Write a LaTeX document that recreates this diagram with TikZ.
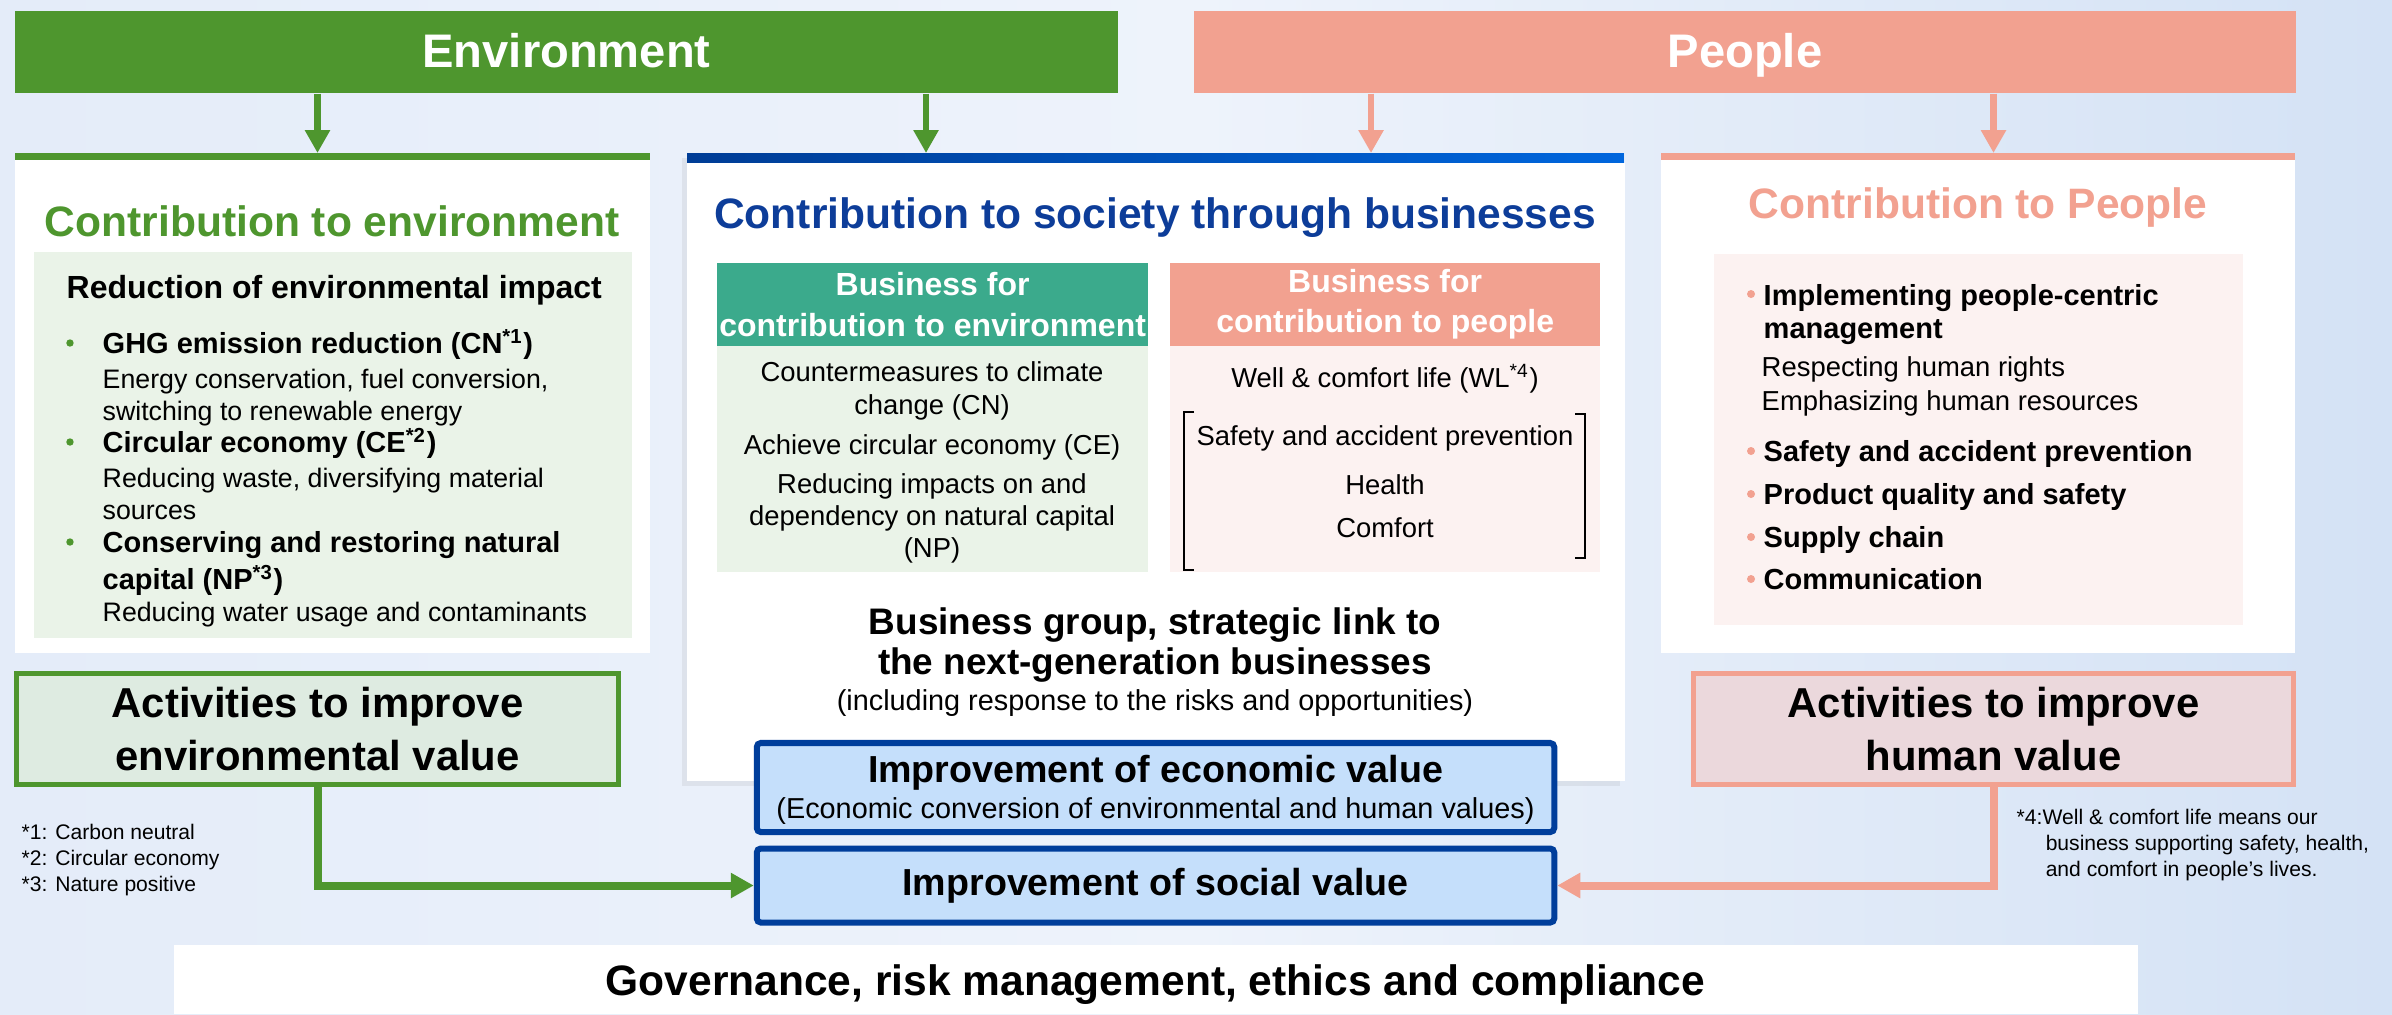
\documentclass[tikz,border=0pt]{standalone}
\usepackage{fontspec}
\setmainfont{Liberation Sans}
\usetikzlibrary{arrows.meta,shadows}
\definecolor{envgreen}{RGB}{78,150,46}
\definecolor{pplsalmon}{RGB}{242,161,144}
\definecolor{bizteal}{RGB}{59,170,140}
\definecolor{bizblue}{RGB}{13,61,153}
\definecolor{bardark}{RGB}{0,61,150}
\definecolor{barbright}{RGB}{0,102,221}
\definecolor{valblue}{RGB}{0,62,155}
\definecolor{valfill}{RGB}{197,223,251}
\definecolor{envlight}{RGB}{234,243,232}
\definecolor{ppllight}{RGB}{252,242,241}
\definecolor{actgreen}{RGB}{222,235,225}
\definecolor{actpink}{RGB}{235,216,220}
\definecolor{bgleft}{RGB}{228,236,249}
\definecolor{bgmid}{RGB}{238,243,251}
\definecolor{bgright}{RGB}{212,226,245}
\begin{document}
\begin{tikzpicture}[x=0.01cm,y=-0.01cm,
  banner/.style={inner sep=0, minimum height=0.82cm, text height=0.34cm, text depth=0.04cm, text=white, font=\bfseries\fontsize{13.4}{16}\selectfont},
  panel/.style={inner sep=0, outer sep=0, anchor=north west, fill=white},
  head/.style={panel, minimum width=4.31cm, minimum height=0.83cm, text=white, align=center, font=\bfseries\fontsize{9.1}{11.4}\selectfont},
  title/.style={inner sep=0, anchor=base, font=\bfseries\fontsize{12.1}{14.5}\selectfont},
  item/.style={inner sep=0, anchor=base west, align=left, font=\bfseries\fontsize{8.25}{9.4}\selectfont},
  body/.style={inner sep=0, align=center, font=\fontsize{7.8}{9.3}\selectfont},
  sub/.style={body, anchor=north west, align=left, font=\fontsize{7.6}{9.1}\selectfont},
  act/.style={line width=0.05cm, minimum height=1.11cm, align=center, font=\bfseries\fontsize{11.9}{14.8}\selectfont},
  value/.style={draw=valblue, fill=valfill, line width=0.06cm, rounded corners=0.04cm, minimum width=7.97cm},
  note/.style={inner sep=0, anchor=north west, align=left, font=\fontsize{6}{7.4}\selectfont},
  down/.style={line width=0.065cm, -{Triangle[length=0.23cm,width=0.24cm]}},
  link/.style={line width=0.08cm, -{Triangle[length=0.23cm,width=0.24cm]}}
]
\useasboundingbox (0,0) rectangle (2392,1014);
\shade[left color=bgleft, right color=bgright, middle color=bgmid] (0,0) rectangle (2392,1014);

% banners
\node[banner, fill=envgreen, minimum width=11.03cm] (env) at (566.5,52) {Environment};
\node[banner, fill=pplsalmon, minimum width=11.02cm] (ppl) at (1745,52) {People};

% three panels
\node[panel, minimum width=6.35cm, minimum height=5.00cm] (envpanel) at (15,153) {};
\fill[envgreen] (envpanel.north west) rectangle ++(635,7);
\node[panel, minimum width=9.37cm, minimum height=6.28cm, drop shadow={shadow xshift=-0.05cm, shadow yshift=-0.05cm, opacity=0.12}] (bizpanel) at (687,153) {};
\shade[left color=bardark, right color=barbright] (bizpanel.north west) rectangle ++(937,9);
\node[panel, minimum width=6.34cm, minimum height=5.00cm] (pplpanel) at (1661,153) {};
\fill[pplsalmon] (pplpanel.north west) rectangle ++(634,7);

\node[title, text=envgreen] (envtitle) at (332,236) {Contribution to environment};
\node[title, text=bizblue] (biztitle) at (1155,228) {Contribution to society through businesses};
\node[title, text=pplsalmon] (ppltitle) at (1978,218) {Contribution to People};

% environment list
\node[panel, fill=envlight, minimum width=5.98cm, minimum height=3.86cm] (envlist) at (34,252) {};
\node[item, font=\bfseries\fontsize{9.1}{11}\selectfont] (reduce) at (66,298) {Reduction of environmental impact};
\node[item] (ghg) at (102,353) {GHG emission reduction (CN\textsuperscript{*1})};
\node[sub] (ghgtxt) at (102,368) {Energy conservation, fuel conversion,\\switching to renewable energy};
\node[item] (ce) at (102,452) {Circular economy (CE\textsuperscript{*2})};
\node[sub] (cetxt) at (102,467) {Reducing waste, diversifying material\\sources};
\node[item, anchor=north west, font=\bfseries\fontsize{8.25}{10.5}\selectfont] (np) at (102,531) {Conserving and restoring natural\\capital (NP\textsuperscript{*3})};
\node[sub] (nptxt) at (102,601) {Reducing water usage and contaminants};
\foreach \n in {ghg,ce} \fill[envgreen] ([shift={(-0.32cm,0.1cm)}]\n.base west) circle[radius=0.037cm];
\fill[envgreen] ([shift={(-0.32cm,-0.11cm)}]np.north west) circle[radius=0.037cm];

% people list
\node[panel, fill=ppllight, minimum width=5.29cm, minimum height=3.71cm] (ppllist) at (1714,254) {};
\node[item, anchor=north west] (centric) at (1763,284) {Implementing people-centric\\management};
\node[body, anchor=north west, align=left, font=\fontsize{7.8}{9.5}\selectfont] (centrictxt) at (1761,356) {Respecting human rights\\Emphasizing human resources};
\node[item] (safety) at (1763,461) {Safety and accident prevention};
\node[item] (quality) at (1763,504) {Product quality and safety};
\node[item] (supply) at (1763,547) {Supply chain};
\node[item] (comm) at (1763,589) {Communication};
\foreach \n in {safety,quality,supply,comm} \fill[pplsalmon] ([shift={(-0.12cm,0.1cm)}]\n.base west) circle[radius=0.04cm];
\fill[pplsalmon] ([shift={(-0.12cm,-0.1cm)}]centric.north west) circle[radius=0.04cm];

% businesses
\node[head, fill=bizteal] (envhead) at (717,263) {Business for\\contribution to environment};
\node[panel, fill=envlight, minimum width=4.31cm, minimum height=2.26cm] (envbiz) at (envhead.south west) {};
\node[head, fill=pplsalmon, minimum width=4.30cm] (pplhead) at (1170,263) {Business for\\contribution to people};
\node[panel, fill=ppllight, minimum width=4.30cm, minimum height=2.26cm] (pplbiz) at (pplhead.south west) {};
\node[body, anchor=north] (climate) at (932,361) {Countermeasures to climate\\change (CN)};
\node[body, anchor=base] (circular) at (932,454) {Achieve circular economy (CE)};
\node[body, anchor=north, font=\fontsize{7.8}{9.1}\selectfont] (natcap) at (932,473) {Reducing impacts on and\\dependency on natural capital\\(NP)};
\node[body, anchor=base] (wellcomfort) at (1385,387) {Well \& comfort life (WL\textsuperscript{*4})};
\node[body, anchor=base] (accident) at (1385,445) {Safety and accident prevention};
\node[body, anchor=base] (health) at (1385,494) {Health};
\node[body, anchor=base] (comfort) at (1385,537) {Comfort};
\draw[line width=0.02cm] (1194,412) -| (1184,570) -- (1194,570);
\draw[line width=0.02cm] (1575,414) -| (1585,558) -- (1575,558);

\node[inner sep=0, anchor=north, align=center, font=\bfseries\fontsize{10.5}{11.4}\selectfont] (group) at (1155,607) {Business group, strategic link to\\the next-generation businesses};
\node[body, anchor=base, font=\fontsize{8.2}{10}\selectfont] (risk) at (1155,710) {(including response to the risks and opportunities)};

% values
\node[value, minimum height=0.89cm] (econ) at (1155.5,787.5) {};
\node[inner sep=0, anchor=base, font=\bfseries\fontsize{10.7}{12}\selectfont] (econtitle) at (1155.5,782) {Improvement of economic value};
\node[body, anchor=base, font=\fontsize{8.2}{10}\selectfont] (econsub) at (1155.5,818) {(Economic conversion of environmental and human values)};
\node[value, minimum height=0.74cm, font=\bfseries\fontsize{10.7}{12}\selectfont] (social) at (1155.5,885.5) {Improvement of social value};

\node[act, draw=envgreen, fill=actgreen, minimum width=6.02cm] (actenv) at (317.5,729) {Activities to improve\\environmental value};
\node[act, draw=pplsalmon, fill=actpink, minimum width=6.00cm] (actppl) at (1993.5,729) {Activities to improve\\human value};

% arrows
\draw[down, envgreen] (actenv |- env.south) -- (actenv |- envpanel.north);
\draw[down, envgreen] (926,0 |- env.south) -- (926,0 |- bizpanel.north);
\draw[down, pplsalmon] (1371,0 |- ppl.south) -- (1371,0 |- bizpanel.north);
\draw[down, pplsalmon] (actppl |- ppl.south) -- (actppl |- pplpanel.north);
\draw[link, envgreen] (actenv.south) |- (social.west);
\draw[link, pplsalmon] (actppl.south) |- (social.east);

% notes
\node[note] (fnenv) at (21,823) {*1: Carbon neutral\\*2: Circular economy\\*3: Nature positive};
\node[note] (fnppl) at (2016,808) {*4:Well \& comfort life means our\\\hspace*{0.29cm}business supporting safety, health,\\\hspace*{0.29cm}and comfort in people’s lives.};

% governance
\node[panel, minimum width=19.63cm, minimum height=0.69cm] (govbox) at (174,945) {};
\node[title] (gov) at (1155.5,995) {Governance, risk management, ethics and compliance};
\end{tikzpicture}
\end{document}
